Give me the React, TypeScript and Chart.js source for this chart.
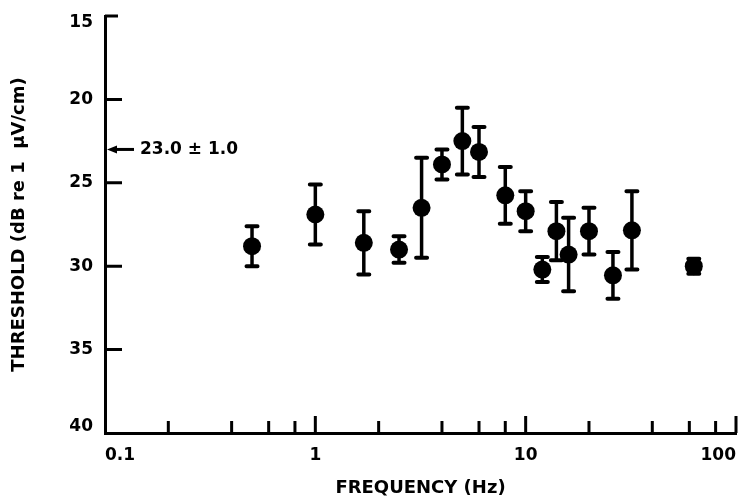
import React, { useEffect, useRef } from 'react';
import { Chart, registerables } from 'chart.js';

Chart.register(...registerables);

// ---- data ----
const frequencies = [0.5, 1.0, 1.7, 2.5, 3.2, 4.0, 5.0, 6.0, 8.0, 10, 12, 14, 16, 20, 26, 32, 63];
const thresholds = [28.8, 26.9, 28.6, 29.0, 26.5, 23.9, 22.5, 23.15, 25.75, 26.7, 30.2, 27.9, 29.3, 27.9, 30.55, 27.85, 30.0];
const errors = [1.2, 1.8, 1.9, 0.8, 3.0, 0.9, 2.0, 1.5, 1.7, 1.2, 0.75, 1.75, 2.2, 1.4, 1.4, 2.35, 0.45];

const xMajorTicks = [0.1, 1, 10, 100];
const xMinorTicks = [0.2, 0.4, 0.6, 0.8, 2, 4, 6, 8, 20, 40, 60, 80];
const yTicks = [15, 20, 25, 30, 35, 40];

const referenceValue = 23.0;
const referenceLabel = '23.0 \u00B1 1.0';

const xTitle = 'FREQUENCY (Hz)';
const yTitle = 'THRESHOLD (dB re 1  \u03BCV/cm)';

const FONT = 'DejaVu Sans';

const noPadding = () => ({ left: 0, top: 0, right: 0, bottom: 0 });

const decorPlugin = {
  id: 'decor',
  beforeDatasetsDraw(chart: any) {
    const { ctx, scales } = chart;
    const x = scales.x;
    const y = scales.y;
    ctx.save();
    ctx.strokeStyle = '#000';
    ctx.fillStyle = '#000';
    // error bars
    for (let i = 0; i < frequencies.length; i++) {
      const px = x.getPixelForValue(frequencies[i]);
      const yTop = y.getPixelForValue(thresholds[i] - errors[i]);
      const yBot = y.getPixelForValue(thresholds[i] + errors[i]);
      ctx.lineCap = 'butt';
      ctx.lineWidth = 3.5;
      ctx.beginPath();
      ctx.moveTo(px, yTop);
      ctx.lineTo(px, yBot);
      ctx.stroke();
      ctx.lineCap = 'round';
      ctx.lineWidth = 4;
      ctx.beginPath();
      ctx.moveTo(px - 5.5, yTop);
      ctx.lineTo(px + 5.5, yTop);
      ctx.moveTo(px - 5.5, yBot);
      ctx.lineTo(px + 5.5, yBot);
      ctx.stroke();
    }
    ctx.restore();
  },
  afterDatasetsDraw(chart: any) {
    const { ctx, scales, chartArea } = chart;
    const x = scales.x;
    const y = scales.y;
    ctx.save();
    ctx.strokeStyle = '#000';
    ctx.fillStyle = '#000';
    ctx.lineCap = 'butt';
    ctx.lineWidth = 3;
    // y ticks pointing inward
    ctx.beginPath();
    yTicks.forEach((v, idx) => {
      if (v === y.max) return;
      const py = y.getPixelForValue(v);
      const len = idx === 0 ? 13 : 17;
      ctx.moveTo(chartArea.left, py);
      ctx.lineTo(chartArea.left + len, py);
    });
    // x ticks pointing inward
    xMajorTicks.forEach((v) => {
      if (v === x.min) return;
      const px = x.getPixelForValue(v);
      ctx.moveTo(px, chartArea.bottom);
      ctx.lineTo(px, chartArea.bottom - 17);
    });
    xMinorTicks.forEach((v) => {
      const px = x.getPixelForValue(v);
      ctx.moveTo(px, chartArea.bottom);
      ctx.lineTo(px, chartArea.bottom - 12);
    });
    ctx.stroke();

    // reference arrow + label
    const ry = y.getPixelForValue(referenceValue);
    const L = chartArea.left;
    ctx.lineWidth = 3;
    ctx.beginPath();
    ctx.moveTo(L + 9, ry);
    ctx.lineTo(L + 29, ry);
    ctx.stroke();
    ctx.beginPath();
    ctx.moveTo(L + 2, ry);
    ctx.lineTo(L + 12, ry - 4);
    ctx.lineTo(L + 12, ry + 4);
    ctx.closePath();
    ctx.fill();
    ctx.font = `bold 17px "${FONT}"`;
    ctx.textAlign = 'left';
    ctx.textBaseline = 'middle';
    ctx.fillText(referenceLabel, L + 35, ry);
    ctx.restore();
  },
};

export default function App() {
  const canvasRef = useRef<HTMLCanvasElement | null>(null);

  useEffect(() => {
    const canvas = canvasRef.current;
    if (!canvas) return;
    const tickFont = { family: FONT, weight: 'bold' as const, size: 17 };
    const chart = new Chart(canvas, {
      type: 'scatter',
      data: {
        datasets: [
          {
            label: 'Threshold',
            data: frequencies.map((f, i) => ({ x: f, y: thresholds[i] })),
            pointRadius: 9,
            pointHoverRadius: 9,
            pointBackgroundColor: '#000',
            pointBorderColor: '#000',
            pointBorderWidth: 0,
            showLine: false,
          },
        ],
      },
      options: {
        animation: false,
        responsive: false,
        maintainAspectRatio: false,
        events: [],
        layout: { autoPadding: false, padding: { top: 16, right: 5, left: 0, bottom: 0 } },
        plugins: {
          legend: { display: false },
          tooltip: { enabled: false },
        },
        scales: {
          x: {
            type: 'logarithmic',
            position: 'bottom',
            min: 0.1,
            max: 100,
            grid: { display: false, drawTicks: false, tickLength: 0 },
            border: { display: true, color: '#000', width: 3 },
            afterBuildTicks: (s: any) => {
              s.ticks = xMajorTicks.map((v) => ({ value: v }));
            },
            afterFit: (s: any) => {
              s.height = 64;
              s.paddingLeft = 0;
              s.paddingRight = 0;
              s.getPadding = noPadding;
            },
            ticks: {
              autoSkip: false,
              maxRotation: 0,
              minRotation: 0,
              align: 'inner',
              color: '#000',
              font: tickFont,
              padding: 12,
              callback: (v: any) => String(v),
            },
            title: {
              display: true,
              text: xTitle,
              color: '#000',
              font: { family: FONT, weight: 'bold', size: 18, lineHeight: 1 },
              padding: { top: 0, bottom: 0 },
            },
          },
          y: {
            type: 'linear',
            position: 'left',
            reverse: true,
            min: 15,
            max: 40,
            grid: { display: false, drawTicks: false, tickLength: 0 },
            border: { display: true, color: '#000', width: 3 },
            afterBuildTicks: (s: any) => {
              s.ticks = yTicks.map((v) => ({ value: v }));
            },
            afterFit: (s: any) => {
              s.width = 105;
              s.paddingTop = 0;
              s.paddingBottom = 0;
              s.getPadding = noPadding;
            },
            ticks: {
              color: '#000',
              font: { family: FONT, weight: 'bold', size: 17, lineHeight: 0.8 },
              padding: 12,
              callback: (v: any, i: number, arr: any[]) => {
                const s = String(v);
                if (i === 0) return ['', s];
                if (i === arr.length - 1) return [s, ''];
                return s;
              },
            },
            title: {
              display: true,
              text: yTitle,
              color: '#000',
              font: { family: FONT, weight: 'bold', size: 18 },
              padding: { top: 9, bottom: 0 },
            },
          },
        },
      },
      plugins: [decorPlugin],
    } as any);
    return () => chart.destroy();
  }, []);

  return (
    <div style={{ position: 'fixed', left: 0, top: 0, width: 741, height: 497, background: '#fff' }}>
      <canvas ref={canvasRef} width={741} height={497} style={{ display: 'block', width: 741, height: 497 }} />
    </div>
  );
}
